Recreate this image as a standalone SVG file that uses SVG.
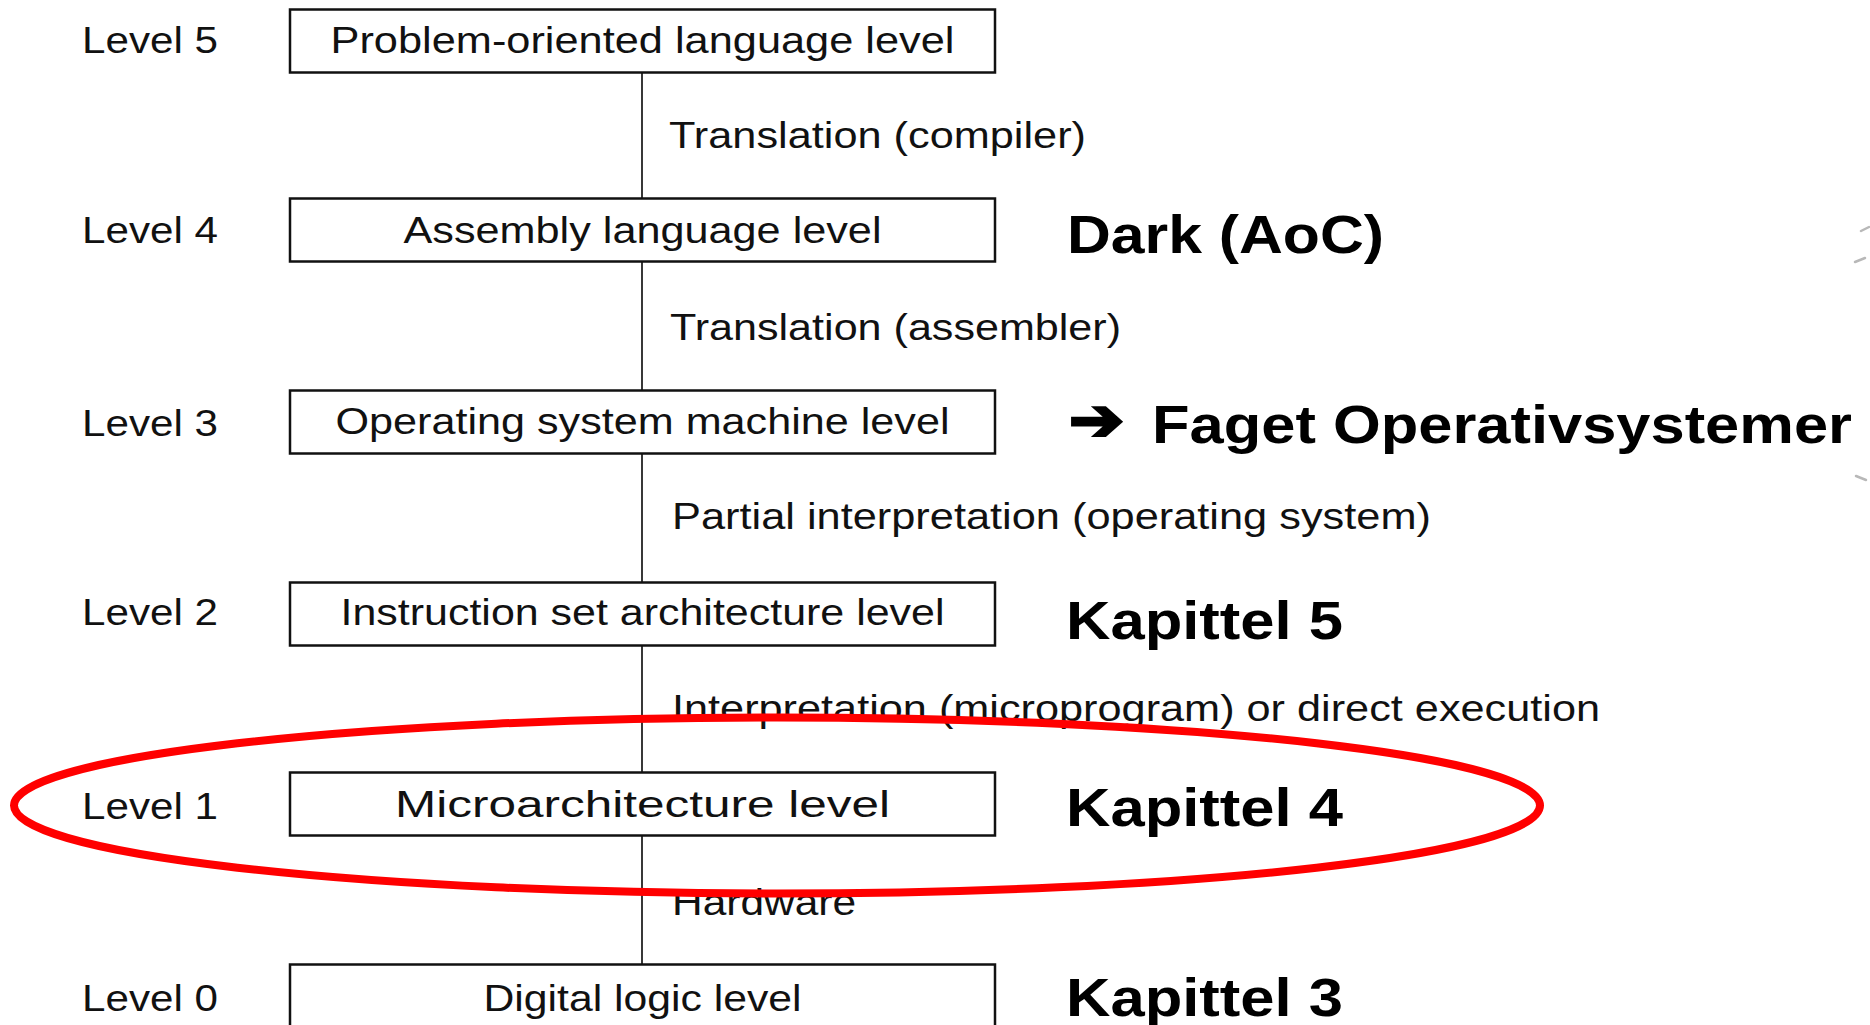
<svg xmlns="http://www.w3.org/2000/svg" width="1870" height="1025" viewBox="0 0 1870 1025">
  <style>
    .box { fill: #ffffff; stroke: #111111; stroke-width: 2.5; }
    .boxtext { font-family: "Liberation Sans", Arial, sans-serif; font-size: 37px; fill: #111111; text-anchor: middle; }
    .lvl { font-family: "Liberation Sans", Arial, sans-serif; font-size: 37px; fill: #111111; }
    .edge { stroke: #222222; stroke-width: 1.8; fill: none; }
    .edgetext { font-family: "Liberation Sans", Arial, sans-serif; font-size: 36px; fill: #111111; }
    .note { font-family: "Liberation Sans", Arial, sans-serif; font-size: 53px; font-weight: bold; fill: #000000; }
    .mark { stroke: #b8b8b8; stroke-width: 2.5; stroke-linecap: round; }
  </style>

  <rect width="1870" height="1025" fill="#ffffff"/>

  <!-- connectors between levels, with their labels -->
  <g id="connectors">
    <line class="edge" x1="642" y1="72.5" x2="642" y2="198.5"/>
    <line class="edge" x1="642" y1="261.5" x2="642" y2="390.5"/>
    <line class="edge" x1="642" y1="453.5" x2="642" y2="582.5"/>
    <line class="edge" x1="642" y1="645.5" x2="642" y2="772.5"/>
    <line class="edge" x1="642" y1="835.5" x2="642" y2="964.5"/>
    <text class="edgetext" x="669" y="148" textLength="417" lengthAdjust="spacingAndGlyphs">Translation (compiler)</text>
    <text class="edgetext" x="670" y="340" textLength="451" lengthAdjust="spacingAndGlyphs">Translation (assembler)</text>
    <text class="edgetext" x="672" y="529" textLength="759" lengthAdjust="spacingAndGlyphs">Partial interpretation (operating system)</text>
    <text class="edgetext" x="672" y="721" textLength="928" lengthAdjust="spacingAndGlyphs">Interpretation (microprogram) or direct execution</text>
    <text class="edgetext" x="672" y="915" textLength="184" lengthAdjust="spacingAndGlyphs">Hardware</text>
  </g>

  <!-- machine levels -->
  <g id="level5">
    <text class="lvl" x="82" y="53" textLength="136" lengthAdjust="spacingAndGlyphs">Level 5</text>
    <rect class="box" x="290" y="9.5" width="705" height="63"/>
    <text class="boxtext" x="642.5" y="53" textLength="624" lengthAdjust="spacingAndGlyphs">Problem-oriented language level</text>
  </g>
  <g id="level4">
    <text class="lvl" x="82" y="243" textLength="136" lengthAdjust="spacingAndGlyphs">Level 4</text>
    <rect class="box" x="290" y="198.5" width="705" height="63"/>
    <text class="boxtext" x="642.5" y="243" textLength="478" lengthAdjust="spacingAndGlyphs">Assembly language level</text>
  </g>
  <g id="level3">
    <text class="lvl" x="82" y="436" textLength="136" lengthAdjust="spacingAndGlyphs">Level 3</text>
    <rect class="box" x="290" y="390.5" width="705" height="63"/>
    <text class="boxtext" x="642.5" y="434" textLength="614" lengthAdjust="spacingAndGlyphs">Operating system machine level</text>
  </g>
  <g id="level2">
    <text class="lvl" x="82" y="625" textLength="136" lengthAdjust="spacingAndGlyphs">Level 2</text>
    <rect class="box" x="290" y="582.5" width="705" height="63"/>
    <text class="boxtext" x="642.5" y="625" textLength="604" lengthAdjust="spacingAndGlyphs">Instruction set architecture level</text>
  </g>
  <g id="level1">
    <text class="lvl" x="82" y="819" textLength="136" lengthAdjust="spacingAndGlyphs">Level 1</text>
    <rect class="box" x="290" y="772.5" width="705" height="63"/>
    <text class="boxtext" x="642.5" y="817" textLength="495" lengthAdjust="spacingAndGlyphs">Microarchitecture level</text>
  </g>
  <g id="level0">
    <text class="lvl" x="82" y="1011" textLength="136" lengthAdjust="spacingAndGlyphs">Level 0</text>
    <rect class="box" x="290" y="964.5" width="705" height="63"/>
    <text class="boxtext" x="642.5" y="1011" textLength="318" lengthAdjust="spacingAndGlyphs">Digital logic level</text>
  </g>

  <!-- course notes beside the levels -->
  <g id="notes">
    <text class="note" x="1067" y="253" textLength="317" lengthAdjust="spacingAndGlyphs">Dark (AoC)</text>
    <text x="1069" y="440" font-family="DejaVu Sans, sans-serif" font-size="58" font-weight="bold" fill="#000" stroke="#000" stroke-width="3" stroke-linejoin="miter" textLength="55" lengthAdjust="spacingAndGlyphs">➔</text>
    <text class="note" x="1152" y="443" textLength="700" lengthAdjust="spacingAndGlyphs">Faget Operativsystemer</text>
    <text class="note" x="1066" y="639" textLength="277" lengthAdjust="spacingAndGlyphs">Kapittel 5</text>
    <text class="note" x="1066" y="826" textLength="277" lengthAdjust="spacingAndGlyphs">Kapittel 4</text>
    <text class="note" x="1066" y="1016" textLength="277" lengthAdjust="spacingAndGlyphs">Kapittel 3</text>
  </g>

  <!-- faint stray strokes at the right edge -->
  <g id="edge-marks">
    <line class="mark" x1="1861" y1="231" x2="1869" y2="227"/>
    <line class="mark" x1="1855" y1="262" x2="1865" y2="258"/>
    <line class="mark" x1="1856" y1="476" x2="1866" y2="480"/>
  </g>

  <!-- red highlight round the microarchitecture level -->
  <g id="highlight">
    <ellipse cx="777" cy="805.5" rx="763" ry="88" fill="none" stroke="#ff0000" stroke-width="8"/>
  </g>
</svg>
